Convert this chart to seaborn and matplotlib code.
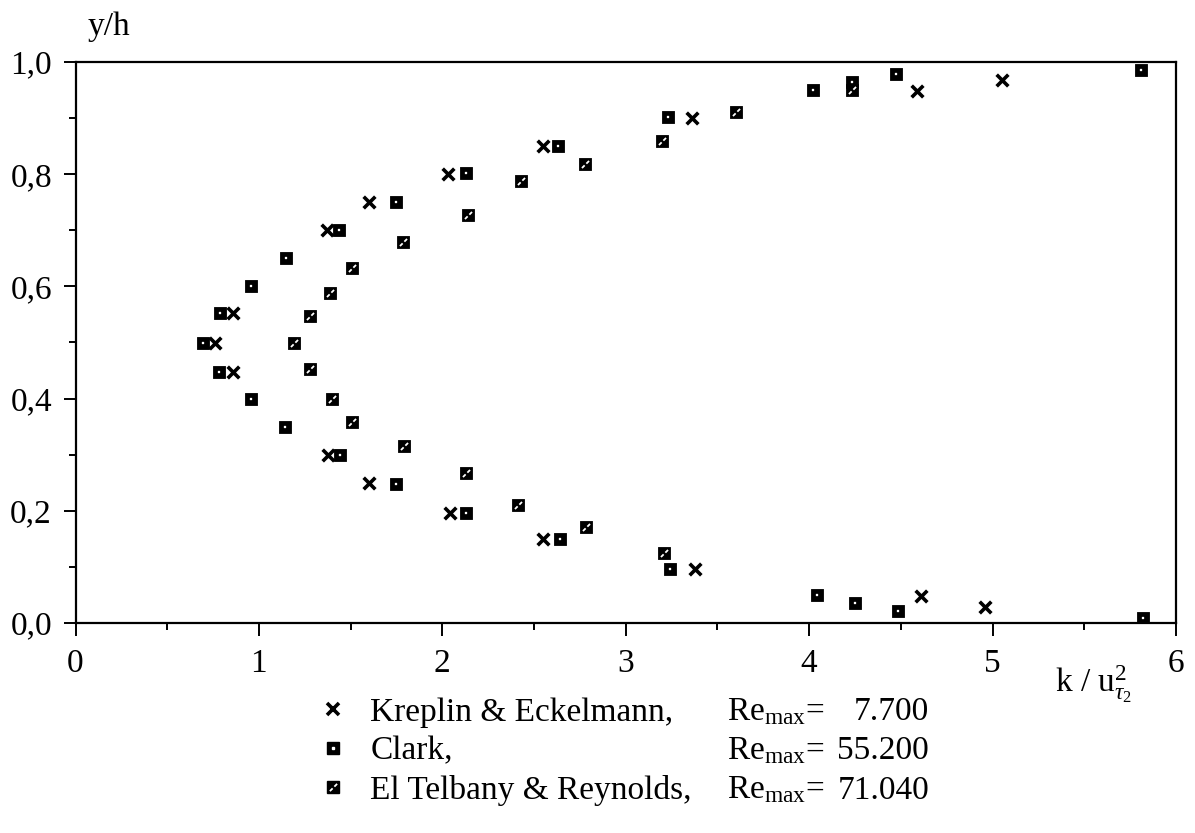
import matplotlib
matplotlib.use("Agg")
import matplotlib.pyplot as plt
import seaborn as sns
from matplotlib.path import Path
from matplotlib.lines import Line2D
from matplotlib.legend_handler import HandlerTuple
from matplotlib.ticker import FixedLocator, MultipleLocator

# ---------------- data ----------------
kreplin_x = [0.76, 0.86, 0.86, 1.375, 1.37, 1.60, 1.60, 2.04, 2.03, 2.55, 2.55,
             3.375, 3.36, 4.61, 4.59, 4.96, 5.05]
kreplin_y = [0.50, 0.447, 0.553, 0.30, 0.70, 0.25, 0.75, 0.196, 0.80, 0.15, 0.85,
             0.096, 0.90, 0.048, 0.948, 0.029, 0.968]

clark_x = [0.695, 0.78, 0.79, 0.955, 0.955, 1.14, 1.145, 1.44, 1.435, 1.75, 1.745,
           2.13, 2.13, 2.64, 2.63, 3.24, 3.23, 4.04, 4.02, 4.25, 4.235, 4.485, 4.475,
           5.82, 5.81]
clark_y = [0.50, 0.447, 0.553, 0.40, 0.60, 0.35, 0.65, 0.30, 0.70, 0.248, 0.75,
           0.196, 0.802, 0.15, 0.85, 0.096, 0.902, 0.05, 0.95, 0.036, 0.964, 0.021, 0.979,
           0.009, 0.986]

telbany_x = [3.21, 2.785, 2.41, 2.13, 1.79, 1.51, 1.40, 1.28, 1.19, 1.28, 1.385,
             1.51, 1.785, 2.14, 2.43, 2.78, 3.20, 3.60, 4.235]
telbany_y = [0.125, 0.171, 0.21, 0.267, 0.316, 0.358, 0.40, 0.453, 0.50, 0.547, 0.588,
             0.633, 0.679, 0.727, 0.788, 0.818, 0.859, 0.911, 0.95]

series_names = ["Kreplin & Eckelmann,", "Clark,", "El Telbany & Reynolds,"]
re_values = ["7.700", "55.200", "71.040"]

x_ticks = [0, 1, 2, 3, 4, 5, 6]
x_tick_labels = ["0", "1", "2", "3", "4", "5", "6"]
y_ticks = [0.0, 0.2, 0.4, 0.6, 0.8, 1.0]
y_tick_labels = ["0,0", "0,2", "0,4", "0,6", "0,8", "1,0"]

# ---------------- style ----------------
sns.set_theme(style="white")
plt.rcParams["font.family"] = ["Liberation Serif", "DejaVu Serif"]
plt.rcParams["mathtext.fontset"] = "custom"
plt.rcParams["mathtext.rm"] = "Liberation Serif"
plt.rcParams["mathtext.it"] = "Liberation Serif:italic"
plt.rcParams["mathtext.bf"] = "Liberation Serif:bold"
plt.rcParams["text.color"] = "black"
plt.rcParams["axes.labelcolor"] = "black"
plt.rcParams["xtick.color"] = "black"
plt.rcParams["ytick.color"] = "black"

FS = 24
FS_LEG = 24
W, H = 1195, 833
fig = plt.figure(figsize=(W / 100, H / 100), dpi=100)
ax = fig.add_axes([75.5 / W, 1 - 623 / H, (1176 - 75.5) / W, (623 - 62) / H])

# white broken diagonal used inside the El Telbany squares
slash = Path([(-0.5, -0.5), (-0.12, -0.12), (0.12, 0.12), (0.5, 0.5)],
             [Path.MOVETO, Path.LINETO, Path.MOVETO, Path.LINETO])

# Kreplin: bold crosses
sns.scatterplot(x=kreplin_x, y=kreplin_y, ax=ax, marker="x", color="black",
                s=70, linewidth=2.6, zorder=3)
# Clark: black square with white centre dot
sns.scatterplot(x=clark_x, y=clark_y, ax=ax, marker="s", color="black",
                edgecolor="black", s=80, linewidth=0.6, zorder=3)
sns.scatterplot(x=clark_x, y=clark_y, ax=ax, marker="s", color="white",
                edgecolor="white", s=3.5, linewidth=0.2, zorder=4)
# El Telbany: black square with white diagonal specks
sns.scatterplot(x=telbany_x, y=telbany_y, ax=ax, marker="s", color="black",
                edgecolor="black", s=80, linewidth=0.6, zorder=3)
sns.scatterplot(x=telbany_x, y=telbany_y, ax=ax, marker=slash, color="white",
                edgecolor="white", s=26, linewidth=1.3, zorder=4)

ax.set_xlim(0, 6)
ax.set_ylim(0, 1)
ax.xaxis.set_major_locator(FixedLocator(x_ticks))
ax.set_xticklabels(x_tick_labels)
ax.yaxis.set_major_locator(FixedLocator(y_ticks))
ax.set_yticklabels(y_tick_labels)
ax.xaxis.set_minor_locator(MultipleLocator(0.5))
ax.yaxis.set_minor_locator(MultipleLocator(0.1))
ax.tick_params(which="both", direction="out", bottom=True, left=True,
               top=False, right=False, width=1.4, colors="black")
ax.tick_params(which="major", length=9, labelsize=FS)
ax.tick_params(axis="x", which="major", pad=9)
ax.tick_params(axis="y", which="major", pad=8)
ax.tick_params(which="minor", length=5)
for sp in ax.spines.values():
    sp.set_visible(True)
    sp.set_color("black")
    sp.set_linewidth(1.6)
ax.set_xlabel("")
ax.set_ylabel("")

# axis titles
fig.text(88 / W, 1 - 35 / H, "y/h", fontsize=FS, ha="left", va="baseline")
fig.text(1055 / W, 1 - 692 / H, r"k / u$^{2}_{\tau_{2}}$", fontsize=FS,
         ha="left", va="baseline")

# legend
h_k = Line2D([], [], ls="none", marker="x", color="black", markersize=8.5,
             markeredgewidth=2.6)
h_cb = Line2D([], [], ls="none", marker="s", color="black", markersize=9)
h_cw = Line2D([], [], ls="none", marker="s", color="white", markersize=1.9)
h_tb = Line2D([], [], ls="none", marker="s", color="black", markersize=9)
h_tw = Line2D([], [], ls="none", marker=slash, color="white", markersize=5.2,
              markeredgewidth=1.3)
leg = fig.legend([h_k, (h_cb, h_cw), (h_tb, h_tw)], series_names,
                 handler_map={tuple: HandlerTuple(ndivide=1)},
                 loc="upper left", bbox_to_anchor=(320 / W, 1 - 697 / H),
                 frameon=False, fontsize=FS_LEG, handlelength=0.8, handletextpad=0.71,
                 labelspacing=0.25, borderpad=0, borderaxespad=0)

fig.canvas.draw()
for txt, val in zip(leg.get_texts(), re_values):
    base = txt.get_transform().transform(txt.get_position())[1]
    fig.text(727 / W, base / H, r"Re$_{\mathrm{max}}$=", fontsize=FS_LEG,
             ha="left", va="baseline")
    fig.text(929 / W, base / H, val, fontsize=FS_LEG, ha="right", va="baseline")

fig.savefig("out.png", dpi=100)
